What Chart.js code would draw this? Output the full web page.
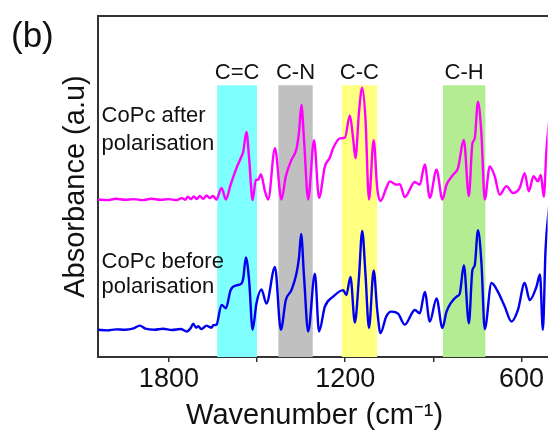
<!DOCTYPE html>
<html>
<head>
<meta charset="utf-8">
<script src="https://cdn.jsdelivr.net/npm/chart.js@4/dist/chart.umd.min.js"></script>
<style>
  html, body { margin: 0; padding: 0; background: #fff; overflow: hidden; }
  #wrap { width: 548px; height: 436px; position: relative; }
</style>
</head>
<body>
<div id="wrap"><canvas id="mycanvas"></canvas></div>
<script>
// FTIR spectra, wavenumber (cm-1) vs absorbance (a.u., offset curves)
var afterPol = [
  [2042,46.2],[2010,46.0],[1980,46.4],[1950,46.1],[1920,46.3],[1890,46.0],[1860,46.4],[1830,46.1],
  [1800,46.3],[1775,46.0],[1755,46.6],[1745,46.1],[1735,47.0],[1725,46.3],[1715,47.1],[1705,46.3],
  [1695,47.2],[1683,46.4],[1672,47.4],[1661,46.6],[1650,47.2],[1638,46.2],
  [1621,49.6],[1606,46.2],[1590,50.5],[1570,55.4],[1553,58.8],[1547,60.2],[1536,66.0],[1527,58.3],
  [1515,46.0],[1504,52.0],[1496,52.0],[1487,53.6],[1473,48.6],[1462,46.2],[1439,61.2],[1417,46.2],
  [1402,53.0],[1383,57.8],[1366,61.0],[1357,66.0],[1349,73.9],[1340,63.6],[1326,46.2],[1306,63.6],
  [1289,46.7],[1269,55.9],[1252,58.5],[1241,61.2],[1218,64.1],[1201,64.3],[1184,70.8],[1173,64.1],
  [1165,58.3],[1153,71.8],[1142,79.0],[1131,69.9],[1119,46.2],[1103,63.6],[1091,49.6],[1080,45.7],
  [1060,49.6],[1048,51.5],[1025,50.5],[1014,50.7],[997,46.9],[963,51.3],[946,50.5],[929,56.5],
  [912,46.7],[889,54.9],[869,46.2],[855,50.5],[833,53.4],[816,55.4],[796,63.6],[779,47.2],
  [767,62.6],[759,64.1],[748,74.9],[736,65.0],[725,46.2],[708,55.9],[691,53.0],[674,47.6],
  [651,50.1],[629,48.1],[606,49.6],[589,53.9],[575,48.6],[559,53.0],[544,51.5],[534,53.4],
  [524,47.0],[515,60.7],[505,70.0]
];
var beforePol = [
  [2042,8.0],[2010,7.8],[1980,8.1],[1950,8.0],[1920,8.4],[1899,9.2],[1880,8.3],[1850,8.0],
  [1820,8.3],[1790,7.9],[1760,8.2],[1739,7.5],[1725,8.6],[1717,9.8],[1708,8.6],[1700,9.0],
  [1690,8.2],[1683,8.5],[1672,9.2],[1666,9.0],[1655,8.6],[1649,9.3],[1638,9.5],
  [1621,15.3],[1606,14.3],[1590,19.6],[1570,21.0],[1553,21.5],[1547,23.0],[1538,29.2],[1527,22.5],
  [1515,8.0],[1502,15.7],[1485,19.8],[1468,15.7],[1439,26.4],[1419,8.0],[1402,16.7],[1383,19.6],
  [1366,24.4],[1357,29.3],[1350,36.1],[1340,23.5],[1326,7.5],[1303,24.4],[1289,7.5],[1269,14.8],
  [1241,17.7],[1207,19.6],[1196,18.2],[1182,23.5],[1167,10.1],[1153,23.5],[1142,37.0],[1131,24.4],
  [1119,8.5],[1103,25.4],[1091,13.8],[1080,7.0],[1060,11.9],[1043,13.3],[1020,12.7],[997,9.5],
  [963,13.8],[946,12.8],[929,19.1],[912,10.4],[889,17.2],[869,8.5],[855,13.3],[821,17.7],
  [810,18.6],[796,26.9],[779,9.9],[767,25.4],[759,26.9],[748,37.2],[736,27.3],[725,8.2],
  [702,21.7],[680,19.1],[657,14.8],[634,10.4],[612,13.8],[589,21.7],[572,16.7],[549,20.6],
  [537,24.2],[527,8.0],[518,31.5],[505,45.0]
];

// highlighted vibration bands (cm-1)
var bandNames = ['C=C', 'C-N', 'C-C', 'C-H'];
var bandFrom  = [1636, 1428, 1212, 868];
var bandTo    = [1500, 1310, 1091, 722];
var bandColors = ['#80ffff', '#c0c0c0', '#ffff80', '#b4ec94'];
var bandTop = 79.7;

var xTicks = [1800, 1500, 1200, 900, 600];
var xLabeled = [1800, 1200, 600];

var seriesNames = [['CoPc after', 'polarisation'], ['CoPc before', 'polarisation']];
var seriesLabelY = [[69.0, 60.6], [26.2, 18.8]];

function toXY(arr) {
  return arr.map(function(p) { return {x: p[0], y: p[1]}; });
}

var datasets = [];
for (var i = 0; i < bandNames.length; i++) {
  datasets.push({
    label: bandNames[i],
    data: [{x: bandFrom[i], y: bandTop}, {x: bandTo[i], y: bandTop}],
    borderWidth: 0,
    backgroundColor: bandColors[i],
    fill: 'origin',
    pointRadius: 0,
    order: 5
  });
}
datasets.push({
  label: 'CoPc after polarisation',
  data: toXY(afterPol),
  borderColor: '#ff00ff',
  borderWidth: 2.4,
  pointRadius: 0,
  fill: false,
  cubicInterpolationMode: 'monotone',
  order: 1
});
datasets.push({
  label: 'CoPc before polarisation',
  data: toXY(beforePol),
  borderColor: '#0000ee',
  borderWidth: 2.4,
  pointRadius: 0,
  fill: false,
  cubicInterpolationMode: 'monotone',
  order: 1
});

var textPlugin = {
  id: 'textPlugin',
  afterDatasetsDraw: function(chart) {
    var ctx = chart.ctx, xs = chart.scales.x, ys = chart.scales.y;
    ctx.save();
    ctx.fillStyle = '#111';
    ctx.font = '22px "Liberation Sans", Arial, sans-serif';
    ctx.textAlign = 'center';
    ctx.textBaseline = 'alphabetic';
    for (var i = 0; i < bandNames.length; i++) {
      var cx = xs.getPixelForValue((bandFrom[i] + bandTo[i]) / 2);
      ctx.fillText(bandNames[i], cx, ys.getPixelForValue(81.6));
    }
    ctx.textAlign = 'left';
    for (var s = 0; s < seriesNames.length; s++) {
      for (var l = 0; l < 2; l++) {
        ctx.fillText(seriesNames[s][l], xs.getPixelForValue(2029), ys.getPixelForValue(seriesLabelY[s][l]));
      }
    }
    ctx.font = '35px "Liberation Sans", Arial, sans-serif';
    ctx.textBaseline = 'middle';
    ctx.fillText('(b)', 11, 37);
    ctx.restore();
  }
};

var ctx = document.getElementById('mycanvas');
var chart = new Chart(ctx, {
  type: 'line',
  data: { datasets: datasets },
  plugins: [textPlugin],
  options: {
    responsive: true,
    maintainAspectRatio: false,
    animation: false,
    events: [],
    layout: { padding: { left: 55, right: 0, top: 16, bottom: 2 } },
    plugins: { legend: { display: false }, tooltip: { enabled: false } },
    scales: {
      x: {
        type: 'linear',
        position: 'bottom',
        reverse: true,
        min: 511,
        max: 2042,
        afterBuildTicks: function(axis) {
          axis.ticks = xTicks.map(function(v) { return {value: v}; });
        },
        ticks: {
          autoSkip: false,
          maxRotation: 0,
          padding: 4,
          color: '#111',
          font: { size: 27, family: '"Liberation Sans", Arial, sans-serif', lineHeight: 1.0 },
          callback: function(v) { return xLabeled.indexOf(v) >= 0 ? String(v) : ''; }
        },
        grid: { display: true, drawOnChartArea: false, drawTicks: true, tickLength: 5, color: '#333', lineWidth: 1.5 },
        border: { display: true, color: '#333', width: 2 },
        title: {
          display: true,
          text: 'Wavenumber (cm\u207B\u00B9)\u00A0\u00A0',
          color: '#111',
          padding: { top: 4, bottom: 4 },
          font: { size: 29, family: '"Liberation Sans", Arial, sans-serif', lineHeight: 1.0 }
        }
      },
      x2: {
        type: 'linear',
        position: 'top',
        reverse: true,
        min: 511,
        max: 2042,
        ticks: { display: false },
        grid: { display: false, drawTicks: false },
        border: { display: true, color: '#333', width: 2 }
      },
      y: {
        type: 'linear',
        min: 0,
        max: 100,
        ticks: { display: false },
        grid: { display: false, drawTicks: false },
        border: { display: true, color: '#333', width: 2 },
        title: {
          display: true,
          text: 'Absorbance (a.u)',
          color: '#111',
          padding: { top: 4, bottom: 4 },
          font: { size: 29, family: '"Liberation Sans", Arial, sans-serif', lineHeight: 1.2 }
        }
      }
    }
  }
});
</script>
</body>
</html>
